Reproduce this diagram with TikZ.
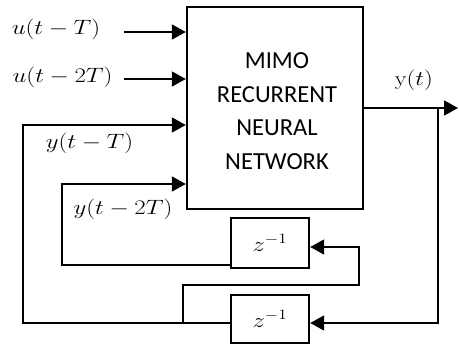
\documentclass[tikz,border=0pt]{standalone}
\usepackage{fontspec}
\usepackage{graphicx}
\newfontfamily\carlito{Carlito}
\usetikzlibrary{arrows.meta}
\begin{document}
\begin{tikzpicture}[x=1pt,y=-1pt,
  arr/.style={-{Triangle[length=14pt,width=15pt]}, line width=1.7pt},
  blk/.style={draw, line width=2.4pt, rectangle, inner sep=0pt},
  mlabel/.style={inner sep=0pt, font=\fontsize{20}{22}\selectfont},
  ]
\useasboundingbox (0,0) rectangle (459,345);
% main block
\node[blk, minimum width=176pt, minimum height=202pt] (nn) at (275,108) {};
\node[align=center, inner sep=0pt, font=\carlito\fontsize{24.5}{33.7}\selectfont] (nt) at (277,111) {MIMO\\RECURRENT\\NEURAL\\NETWORK};
% delay blocks
\node[blk, minimum width=78pt, minimum height=50pt, font=\fontsize{20}{22}\selectfont] (z1) at (270,243) {\scalebox{1.2}[1]{$z^{-1}$}};
\node[blk, minimum width=78pt, minimum height=48pt, font=\fontsize{20}{22}\selectfont] (z2) at (270,319) {\scalebox{1.2}[1]{$z^{-1}$}};
% labels
\node[mlabel] (lu1) at (56,29) {\scalebox{1.2}[1]{$u(t-T)$}};
\node[mlabel] (lu2) at (62.5,77) {\scalebox{1.2}[1]{$u(t-2T)$}};
\node[mlabel] (ly1) at (89.5,143) {\scalebox{1.2}[1]{$y(t-T)$}};
\node[mlabel] (ly2) at (123,209) {\scalebox{1.2}[1]{$y(t-2T)$}};
\node[mlabel] (lyt) at (414,80) {\scalebox{1.2}[1]{$\mathrm{y}(t)$}};
% inputs
\coordinate (s1) at (124,32);
\coordinate (s2) at (124,79);
\draw[arr] (s1) -- (s1 -| nn.west);
\draw[arr] (s2) -- (s2 -| nn.west);
% output
\coordinate (yo) at (458,108);
\coordinate (br) at (438,108);
\draw[arr] (nn.east) -- (yo);
\draw[arr] (br) |- ([yshift=-4pt]z2.east);
% y(t-T) feedback
\coordinate (c1) at (23,125);
\draw[arr] ([yshift=-4pt]z2.west) -| (c1) -- (c1 -| nn.west);
% branch to second delay
\coordinate (b1) at (183,323);
\coordinate (b2) at (359,285);
\draw[arr] (b1) |- (b2) |- ([yshift=-4pt]z1.east);
% y(t-2T) feedback
\coordinate (c2) at (62,184);
\draw[arr] ([yshift=-22pt]z1.west) -| (c2) -- (c2 -| nn.west);
\end{tikzpicture}
\end{document}
